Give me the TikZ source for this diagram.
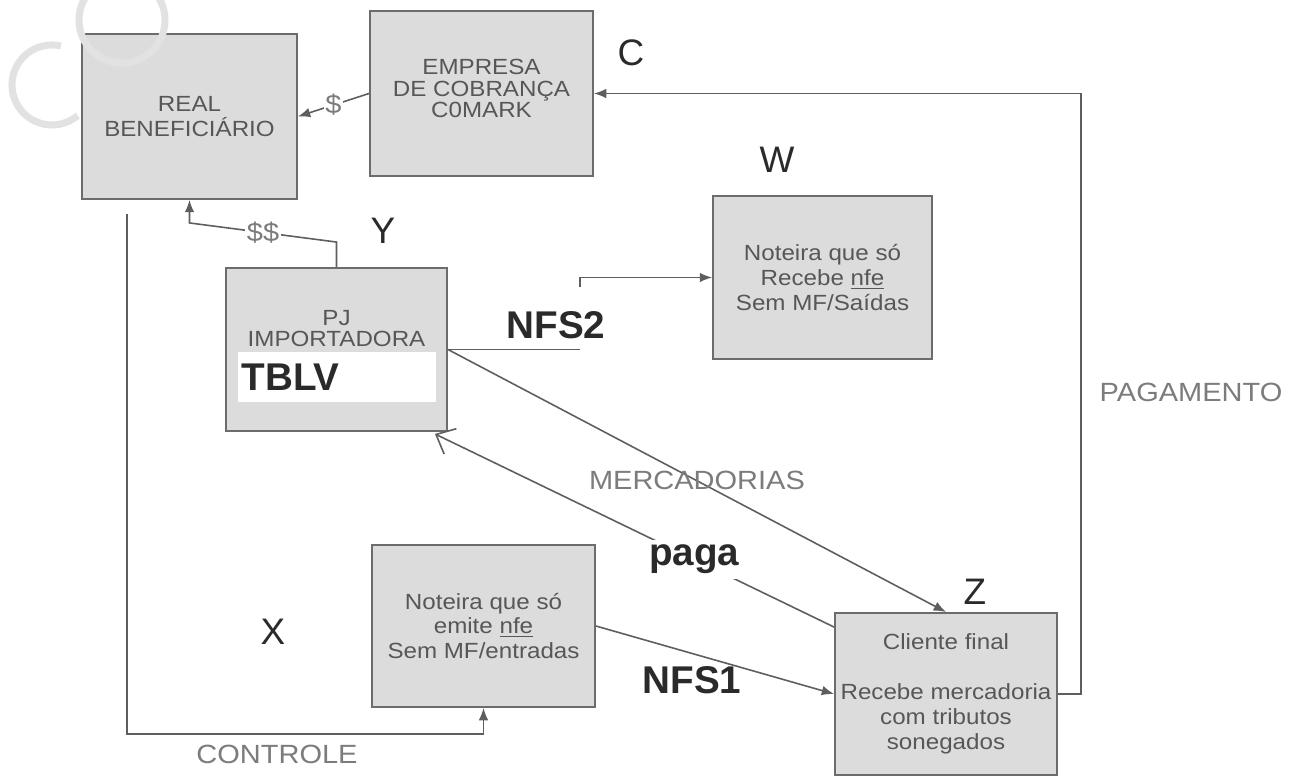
\documentclass[tikz,border=0pt]{standalone}
\usepackage{fontspec}
\setmainfont{Liberation Sans}
\newfontfamily\boxfont[FakeStretch=1.1]{Liberation Sans}
\usetikzlibrary{positioning,calc,arrows.meta}

\definecolor{boxfill}{HTML}{DCDCDC}
\definecolor{boxline}{HTML}{6C6C6C}
\definecolor{boxtext}{HTML}{575757}
\definecolor{wire}{HTML}{5E5E5E}
\definecolor{tagtext}{HTML}{7C7C7C}
\definecolor{ink}{HTML}{2A2A2A}
\definecolor{watermark}{HTML}{E2E2E2}

\tikzset{
	entity/.style={draw=boxline, fill=boxfill, line width=1.1pt, inner sep=0pt, text=boxtext, align=center, font=\boxfont\fontsize{12.5}{14.2}\selectfont},
	inset/.style={text=boxtext, align=center, inner sep=0pt, font=\boxfont\fontsize{12.5}{12.2}\selectfont},
	letter/.style={text=ink, inner sep=0pt, font=\fontsize{21}{21}\selectfont},
	tag/.style={text=tagtext, inner sep=1pt, font=\boxfont\fontsize{15}{15}\selectfont},
	doc/.style={text=ink, inner sep=1pt, font=\bfseries\fontsize{22}{22}\selectfont},
	flow/.style={draw=wire, line width=0.9pt},
}

\begin{document}
\begin{tikzpicture}[x=0.02cm, y=-0.02cm, >={Latex[length=7pt,width=5.5pt]}]
		\useasboundingbox (0,0) rectangle (1290,776);
		\fill[white] (0,0) rectangle (1290,776);

		\node[entity, minimum width=4.3cm, minimum height=3.3cm] (rb) at (189.5,116.5) {REAL\\BENEFICIÁRIO};
		\node[entity, minimum width=4.46cm, minimum height=3.3cm] (emp) at (481.5,93.5) {};
		\node[inset] (empname) at ($(emp.center)+(0,-5)$) {EMPRESA\\DE COBRANÇA\\C0MARK};
		\node[entity, minimum width=4.38cm, minimum height=3.26cm] (w) at (822.5,277.5) {Noteira que só\\Recebe \underline{nfe}\\Sem MF/Saídas};
		\node[entity, minimum width=4.42cm, minimum height=3.26cm] (imp) at (336.5,349.5) {};
		\node[inset] (impname) at ($(imp.center)+(0,-21)$) {PJ\\IMPORTADORA};
		\node[fill=white, inner sep=0pt, minimum width=3.97cm, minimum height=1cm] (tblvbox) at ($(imp.center)+(0.25,27.5)$) {};
		\node[doc, anchor=west, inner sep=0pt] (tblv) at ($(tblvbox.west)+(4,0)$) {TBLV};
		\node[entity, minimum width=4.46cm, minimum height=3.24cm] (xbox) at (483.5,626) {Noteira que só\\emite \underline{nfe}\\Sem MF/entradas};
		\node[entity, minimum width=4.44cm, minimum height=3.24cm] (zbox) at (946,694) {Cliente final\\[14.2pt]Recebe mercadoria\\com tributos\\sonegados};

		\node[letter] (clabel) at (631,53) {C};
		\node[letter] (wlabel) at (777,160) {W};
		\node[letter] (ylabel) at (383,231) {Y};
		\node[letter] (xlabel) at (273,632) {X};
		\node[letter] (zlabel) at (975,592) {Z};
		\node[tag] (pagamento) at (1191,392) {PAGAMENTO};
		\node[tag] (controle) at (277,754) {CONTROLE};
		\node[doc] (nfs2) at (556,325) {NFS2};
		\node[doc] (nfs1) at (692,680) {NFS1};

		\coordinate (ssbend) at ($(rb.south)+(0,23)$);
		\coordinate (ctlstart) at ($(rb.south west)+(46,14)$);
		\coordinate (nfsbend) at ($(imp.east)+(132,-62)$);

		\draw[flow,->] (emp.west) -- node[tag, fill=white] {\$} (rb.east);
		\draw[flow,->] (imp.north) -- ++(0,-25) -- node[tag, fill=white] {\$\$} (ssbend) -- (rb.south);
		\draw[flow,->] (ctlstart) -- ++(0,520) -| (xbox.south);
		\draw[flow,->] (zbox.east) -- ++(23,0) |- (emp.east);
		\draw[flow] (imp.east) -- (imp.east -| nfsbend);
		\draw[flow,->] (nfsbend) |- (w.west);
		\draw[flow,->] (imp.east) -- node[tag, pos=0.5] (merc) {MERCADORIAS} (zbox.north);
		\draw[flow,-{Straight Barb[length=9pt,width=16pt]}] ($(zbox.north west)+(0,15)$) -- node[doc, fill=white, pos=0.35, inner sep=3pt] (paga) {paga} ($(imp.south east)+(-13,2)$);
		\draw[flow,->] (xbox.east) -- (zbox.west);

		\draw[watermark, line width=4pt] (61,46) arc[start angle=-77, end angle=-310, radius=40];
		\draw[watermark, line width=4pt] (122,20) circle (43);
\end{tikzpicture}
\end{document}
